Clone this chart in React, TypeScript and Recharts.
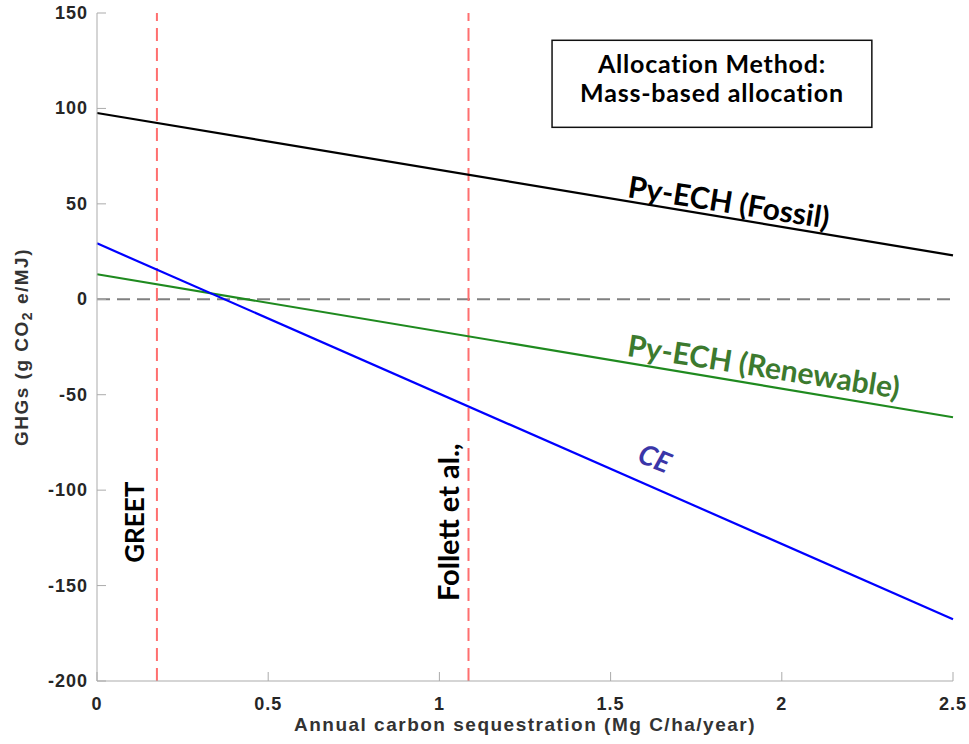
import {
  Line,
  LineChart,
  ReferenceArea,
  ReferenceDot,
  ReferenceLine,
  XAxis,
  YAxis,
} from "recharts"

// Life-cycle GHG emissions vs. annual soil carbon sequestration rate
const sequestrationRates = [0, 2.5]
const fossilGhg = [97.6, 23.0]
const renewableGhg = [13.1, -61.8]
const ceGhg = [29.3, -167.6]

const xTicks = [0, 0.5, 1, 1.5, 2, 2.5]
const yTicks = [-200, -150, -100, -50, 0, 50, 100, 150]

const referenceStudies = [
  { name: "GREET", rate: 0.175, labelRate: 0.108, size: 26 },
  { name: "Follett et al.,", rate: 1.085, labelRate: 1.025, size: 29 },
]
const studyLabelGhg = -116.8

const seriesLabels = [
  { text: "Py-ECH (Fossil)", x: 1.846, y: 51.5, angle: 9, color: "#000000", italic: false, size: 30 },
  { text: "Py-ECH (Renewable)", x: 1.948, y: -34.6, angle: 9, color: "#3c7a2e", italic: false, size: 30 },
  { text: "CE", x: 1.63, y: -82.8, angle: 22, color: "#3a36a8", italic: true, size: 28 },
]

const methodBox = { x1: 1.329, x2: 2.263, y1: 90.1, y2: 135.7 }
const methodLines = ["Allocation Method:", "Mass-based allocation"]

const data = sequestrationRates.map((rate, i) => ({
  rate,
  fossil: fossilGhg[i],
  renewable: renewableGhg[i],
  ce: ceGhg[i],
}))

const AXIS_GREY = "#ababab"
const TICK_TEXT = "#262626"
const TICK_LEN = 9
const axisFont = "'Liberation Sans', Arial, sans-serif"
const noteFont = "Lato, 'Open Sans', sans-serif"

const LeftTick = ({ x, y, payload }: any) => (
  <g>
    <line x1={x} x2={x + TICK_LEN} y1={y} y2={y} stroke={AXIS_GREY} />
    <text
      x={x - 9}
      y={y + 6}
      textAnchor="end"
      fontFamily={axisFont}
      fontWeight="bold"
      fontSize={18}
      letterSpacing={1}
      fill={TICK_TEXT}
    >
      {payload.value}
    </text>
  </g>
)

const RightTick = ({ x, y }: any) => (
  <line x1={x} x2={x - TICK_LEN} y1={y} y2={y} stroke={AXIS_GREY} />
)

const BottomTick = ({ x, y, payload }: any) => (
  <g>
    <line x1={x} x2={x} y1={y} y2={y - TICK_LEN} stroke={AXIS_GREY} />
    <text
      x={x}
      y={y + 29}
      textAnchor="middle"
      fontFamily={axisFont}
      fontWeight="bold"
      fontSize={18}
      letterSpacing={1}
      fill={TICK_TEXT}
    >
      {payload.value}
    </text>
  </g>
)

const TopTick = ({ x, y }: any) => (
  <line x1={x} x2={x} y1={y} y2={y + TICK_LEN} stroke={AXIS_GREY} />
)

const YTitle = ({ viewBox }: any) => {
  const cx = viewBox.x + 21
  const cy = viewBox.y + viewBox.height / 2
  return (
    <text
      x={cx}
      y={cy}
      transform={`rotate(-90, ${cx}, ${cy})`}
      textAnchor="middle"
      dominantBaseline="central"
      fontFamily={axisFont}
      fontWeight="bold"
      fontSize={19}
      letterSpacing={1.5}
      fill="#333333"
    >
      GHGs (g CO
      <tspan dy={6} fontSize={14}>2</tspan>
      <tspan dy={-6}> e/MJ)</tspan>
    </text>
  )
}

const XTitle = ({ viewBox }: any) => (
  <text
    x={viewBox.x + viewBox.width / 2}
    y={viewBox.y + 50}
    textAnchor="middle"
    fontFamily={axisFont}
    fontWeight="bold"
    fontSize={19}
    letterSpacing={1.5}
    fill="#333333"
  >
    Annual carbon sequestration (Mg C/ha/year)
  </text>
)

const RotatedNote = ({ cx, cy, text, angle, color, italic, size }: any) => (
  <text
    x={cx}
    y={cy}
    transform={`rotate(${angle}, ${cx}, ${cy})`}
    textAnchor="middle"
    dominantBaseline="central"
    fontFamily={noteFont}
    fontWeight="bold"
    fontStyle={italic ? "italic" : "normal"}
    fontSize={size}
    fill={color}
  >
    {text}
  </text>
)

const MethodBox = ({ x, y, width, height }: any) => (
  <g>
    <rect x={x} y={y} width={width} height={height} fill="#ffffff" stroke="#111111" strokeWidth={1.5} />
    {methodLines.map((line, i) => (
      <text
        key={line}
        x={x + width / 2}
        y={y + 33 + i * 29}
        textAnchor="middle"
        fontFamily={noteFont}
        fontWeight="bold"
        fontSize={25}
        letterSpacing={0.8}
        fill="#000000"
      >
        {line}
      </text>
    ))}
  </g>
)

export default function App() {
  return (
    <div style={{ position: "absolute", left: 0, top: 0, background: "#ffffff" }}>
      <LineChart
        width={969}
        height={744}
        data={data}
        margin={{ top: 13, right: 16, left: 0, bottom: 0 }}
      >
        <XAxis
          dataKey="rate"
          type="number"
          domain={[0, 2.5]}
          ticks={xTicks}
          interval={0}
          height={63}
          tickSize={0}
          tickMargin={0}
          tickLine={false}
          axisLine={{ stroke: AXIS_GREY }}
          tick={<BottomTick />}
          label={(props: any) => <XTitle {...props} />}
        />
        <XAxis
          xAxisId="top"
          orientation="top"
          dataKey="rate"
          type="number"
          domain={[0, 2.5]}
          ticks={xTicks}
          interval={0}
          height={0}
          tickSize={0}
          tickMargin={0}
          tickLine={false}
          axisLine={{ stroke: AXIS_GREY }}
          tick={<TopTick />}
        />
        <YAxis
          type="number"
          domain={[-200, 150]}
          ticks={yTicks}
          interval={0}
          width={97}
          tickSize={0}
          tickMargin={0}
          tickLine={false}
          axisLine={{ stroke: AXIS_GREY }}
          tick={<LeftTick />}
          label={(props: any) => <YTitle {...props} />}
        />
        <YAxis
          yAxisId="right"
          orientation="right"
          type="number"
          domain={[-200, 150]}
          ticks={yTicks}
          interval={0}
          width={0}
          tickSize={0}
          tickMargin={0}
          tickLine={false}
          axisLine={{ stroke: AXIS_GREY }}
          tick={<RightTick />}
        />

        <ReferenceLine y={0} stroke="#808080" strokeWidth={2} strokeDasharray="13 7" />
        {referenceStudies.map((study) => (
          <ReferenceLine
            key={study.name}
            x={study.rate}
            stroke="#ff6f6f"
            strokeWidth={2}
            strokeDasharray="13 7"
          />
        ))}

        <Line dataKey="fossil" stroke="#000000" strokeWidth={2.2} dot={false} isAnimationActive={false} />
        <Line dataKey="renewable" stroke="#1f8a1f" strokeWidth={2.2} dot={false} isAnimationActive={false} />
        <Line dataKey="ce" stroke="#0000ff" strokeWidth={2.2} dot={false} isAnimationActive={false} />

        {referenceStudies.map((study) => (
          <ReferenceDot
            key={`${study.name}-label`}
            x={study.labelRate}
            y={studyLabelGhg}
            r={0}
            shape={(p: any) => (
              <RotatedNote cx={p.cx} cy={p.cy} text={study.name} angle={-90} color="#000000" size={study.size} />
            )}
          />
        ))}
        {seriesLabels.map((note) => (
          <ReferenceDot
            key={note.text}
            x={note.x}
            y={note.y}
            r={0}
            shape={(p: any) => (
              <RotatedNote
                cx={p.cx}
                cy={p.cy}
                text={note.text}
                angle={note.angle}
                color={note.color}
                italic={note.italic}
                size={note.size}
              />
            )}
          />
        ))}
        <ReferenceArea
          x1={methodBox.x1}
          x2={methodBox.x2}
          y1={methodBox.y1}
          y2={methodBox.y2}
          shape={(p: any) => <MethodBox {...p} />}
        />
      </LineChart>
    </div>
  )
}
